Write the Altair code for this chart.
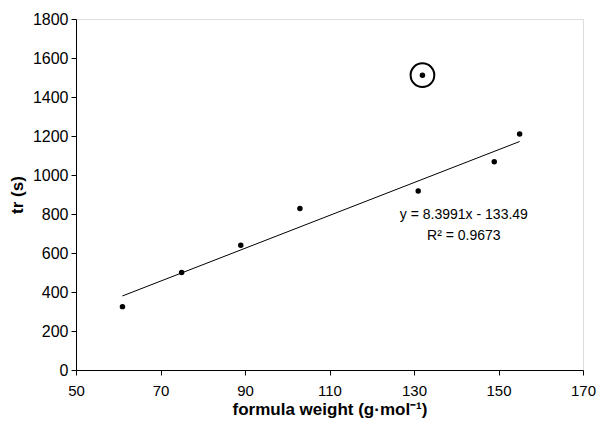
import altair as alt
import pandas as pd

weights = [61, 75, 89, 103, 131, 149, 155]
tr_values = [325, 500, 640, 828, 918, 1068, 1210]
outlier_weight = [132]
outlier_tr = [1512]
eq_lines = ["y = 8.3991x - 133.49", "R² = 0.9673"]
eq_x = [141.8, 141.8]
eq_y = [793, 686]

pts = pd.DataFrame({"w": weights, "tr": tr_values})
out = pd.DataFrame({"w": outlier_weight, "tr": outlier_tr})
ann = pd.DataFrame({"w": eq_x, "tr": eq_y, "t": eq_lines})

xs = alt.Scale(domain=[50, 170], nice=False)
ys = alt.Scale(domain=[0, 1800], nice=False)

xax = alt.Axis(values=[50, 70, 90, 110, 130, 150, 170], title="formula weight (g·mol⁻¹)",
               format="d", grid=False, tickSize=5, labelFontSize=15, titleFontSize=17,
               titleFontWeight="bold", labelFlush=False,
               labelColor="black", titleColor="black", domainColor="black", tickColor="black",
               labelPadding=8, titlePadding=3, labelFont="Liberation Sans", titleFont="Liberation Sans")
yax = alt.Axis(values=list(range(0, 1801, 200)), title="tr (s)", format="d", grid=False, tickSize=5,
               labelFontSize=16, titleFontSize=17, titleFontWeight="bold", labelFlush=False,
               labelColor="black", titleColor="black", domainColor="black", tickColor="black",
               labelPadding=3, titlePadding=6, labelFont="Liberation Sans", titleFont="Liberation Sans")

base_x = alt.X("w:Q", scale=xs, axis=xax)
base_y = alt.Y("tr:Q", scale=ys, axis=yax)

points = alt.Chart(pts).mark_circle(color="black", opacity=1, size=30).encode(x=base_x, y=base_y)
trend = alt.Chart(pts).transform_regression("w", "tr").mark_line(color="black", strokeWidth=1).encode(
    x=base_x, y=base_y)
out_pt = alt.Chart(out).mark_circle(color="black", opacity=1, size=30).encode(x=base_x, y=base_y)
out_ring = alt.Chart(out).mark_point(shape="circle", color="black", filled=False, size=560,
                                     strokeWidth=2, opacity=1).encode(x=base_x, y=base_y)
text = alt.Chart(ann).mark_text(fontSize=14, font="Liberation Sans", color="black",
                                baseline="middle", align="center").encode(x=base_x, y=base_y, text="t:N")

chart = alt.layer(trend, points, out_pt, out_ring, text).properties(
    width=507, height=351,
    autosize=alt.AutoSizeParams(type="none"),
    padding={"left": 68, "top": 11, "right": 13, "bottom": 55},
).configure_view(stroke="black", strokeWidth=1).configure(background="white")

chart.save("out.html", embed_options={"renderer": "svg", "actions": False})
